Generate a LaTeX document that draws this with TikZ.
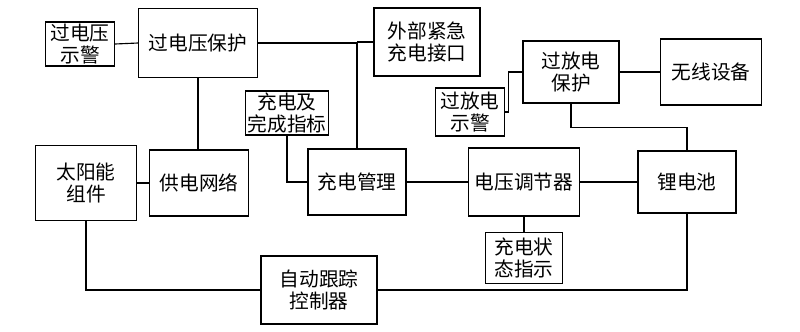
\documentclass[tikz,border=0pt]{standalone}
\usepackage{fontspec}
\newfontfamily\cjk{Noto Sans CJK SC}
\tikzset{
    blk/.style 2 args={draw, line width=0.8pt, align=center, inner sep=0pt,
        minimum width=#1*0.025cm, minimum height=#2*0.025cm},
    wire/.style={line width=0.8pt}
}

\begin{document}
\begin{tikzpicture}[x=0.025cm, y=-0.025cm, font=\cjk\fontsize{14}{16}\selectfont]
                    \useasboundingbox (0,0) rectangle (800,331);
                    \node[blk={69}{44}] (ovwarn) at (80,44) {过电压\\示警};
                    \node[blk={119}{69}] (ovprot) at (198,43) {过电压保护};
                    \node[blk={106}{68}] (extport) at (427,42) {外部紧急\\充电接口};
                    \node[blk={83}{44}] (chgind) at (287,113) {充电及\\完成指标};
                    \node[blk={96}{62}] (odprot) at (571,72) {过放电\\保护};
                    \node[blk={101}{66}] (wireless) at (711,72) {无线设备};
                    \node[blk={69}{48}] (odwarn) at (470,112) {过放电\\示警};
                    \node[blk={101}{75}] (solar) at (86,183) {太阳能\\组件};
                    \node[blk={99}{66}] (grid) at (199,183) {供电网络};
                    \node[blk={98}{66}] (chgmgr) at (357,182) {充电管理};
                    \node[blk={111}{68}] (vreg) at (524,182) {电压调节器};
                    \node[blk={98}{62}] (battery) at (687,182) {锂电池};
                    \node[blk={77}{51}] (chgstat) at (524,258) {充电状\\态指示};
                    \node[blk={116}{68}] (tracker) at (319,290) {自动跟踪\\控制器};
                    \draw[wire] (ovwarn.east) -- (ovprot.west);
                    \draw[wire] (ovprot.east) -| (chgmgr.north);
                    \draw[wire] (extport.west) -- (extport.west -| chgmgr.north);
                    \draw[wire] (ovprot.south) -- (ovprot.south |- grid.north);
                    \draw[wire] (chgind.south) |- (chgmgr.west);
                    \draw[wire] (solar.east) -- (solar.east -| grid.west);
                    \draw[wire] (chgmgr.east) -- (vreg.west);
                    \draw[wire] (vreg.east) -- (battery.west);
                    \draw[wire] (vreg.south) -- (chgstat.north);
                    \draw[wire] (odwarn.east) -- ++(3,0) |- (odprot.west);
                    \draw[wire] (odprot.east) -- (wireless.west);
                    \draw[wire] (odprot.south) -- ++(0,24) -| (battery.north);
                    \draw[wire] (solar.south) |- (tracker.west);
                    \draw[wire] (tracker.east) -| (battery.south);
                \end{tikzpicture}
\end{document}
